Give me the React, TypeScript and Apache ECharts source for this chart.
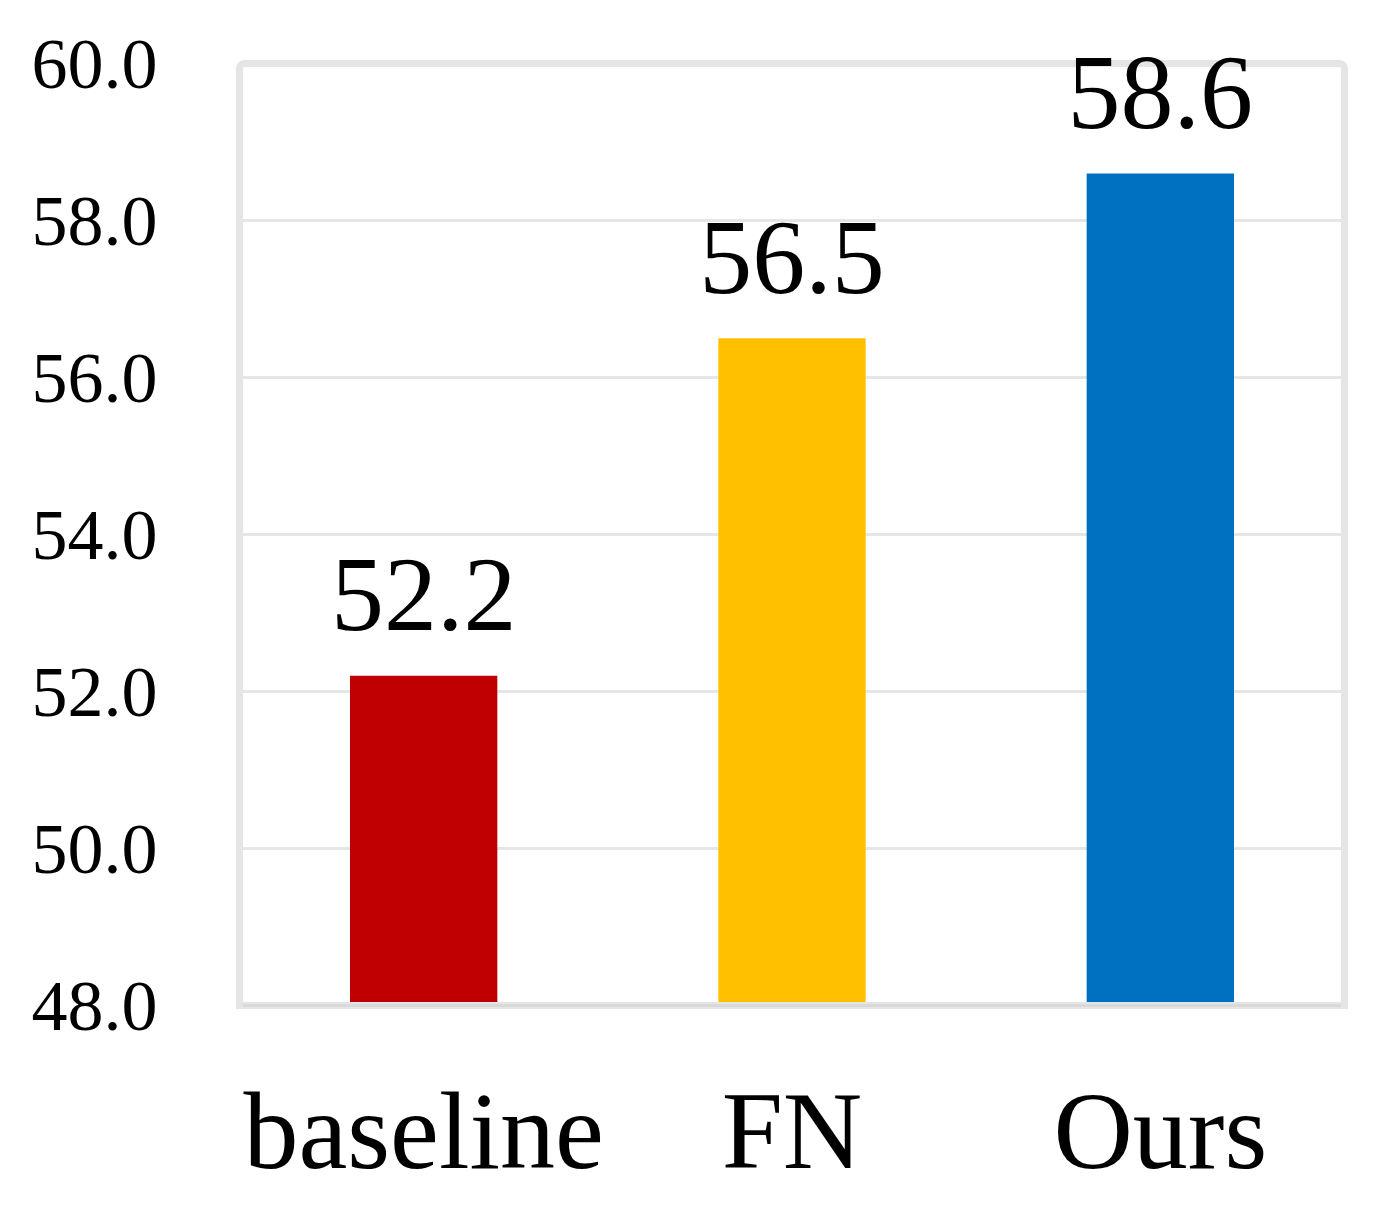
import React, { useEffect, useRef } from "react";
import * as echarts from "echarts";

const categories = ["baseline", "FN", "Ours"];
const values = [52.2, 56.5, 58.6];
const barColors = ["#c00000", "#ffc000", "#0070c0"];
const yMin = 48;
const yMax = 60;
const yInterval = 2;

const FONT = "'Liberation Serif', 'Times New Roman', serif";

export default function App() {
  const ref = useRef<HTMLDivElement>(null);

  useEffect(() => {
    if (!ref.current) return;
    const chart = echarts.init(ref.current, null, { renderer: "svg" });
    const gLeft = 239.5;
    const gTop = 63.5;
    const gRight = 50.5;
    const gBottom = 216.5;
    const gW = 1395 - gLeft - gRight;
    const gH = 1222 - gTop - gBottom;
    chart.setOption({
      animation: false,
      backgroundColor: "#ffffff",
      grid: { left: gLeft, top: gTop, right: gRight, bottom: gBottom, containLabel: false },
      xAxis: {
        type: "category",
        data: categories,
        axisLine: { show: false },
        axisTick: { show: false },
        axisLabel: {
          interval: 0,
          margin: 70,
          fontFamily: FONT,
          fontSize: 110,
          color: "#000000",
        },
      },
      yAxis: {
        type: "value",
        min: yMin,
        max: yMax,
        interval: yInterval,
        axisLine: { show: false },
        axisTick: { show: false },
        splitLine: { lineStyle: { color: "#e6e6e6", width: 3 } },
        axisLabel: {
          margin: 82,
          fontFamily: FONT,
          fontSize: 72,
          color: "#000000",
          formatter: (v: number) => v.toFixed(1),
        },
      },
      series: [
        {
          type: "bar",
          z: 5,
          barWidth: "40%",
          data: values.map((v, i) => ({ value: v, itemStyle: { color: barColors[i] } })),
          label: {
            show: true,
            position: "top",
            distance: 28,
            fontFamily: FONT,
            fontSize: 106,
            color: "#000000",
            formatter: (p: any) => Number(p.value).toFixed(1),
          },
        },
      ],
      graphic: [
        {
          type: "rect",
          z: 1,
          shape: { x: gLeft, y: gTop, width: gW, height: gH, r: 5 },
          style: { fill: "none", stroke: "#e5e5e5", lineWidth: 7 },
          silent: true,
        },
        {
          type: "line",
          z: 100,
          shape: { x1: gLeft - 3.5, y1: gTop + gH, x2: gLeft + gW + 3.5, y2: gTop + gH },
          style: { stroke: "#e5e5e5", lineWidth: 7 },
          silent: true,
        },
        {
          type: "line",
          z: 101,
          shape: { x1: gLeft + 3.5, y1: gTop + gH, x2: gLeft + gW - 3.5, y2: gTop + gH },
          style: { stroke: "#d9d9d9", lineWidth: 3 },
          silent: true,
        },
      ],
    });
    return () => chart.dispose();
  }, []);

  return (
    <div
      ref={ref}
      style={{ position: "fixed", left: 0, top: 0, width: 1395, height: 1222, background: "#fff" }}
    />
  );
}
